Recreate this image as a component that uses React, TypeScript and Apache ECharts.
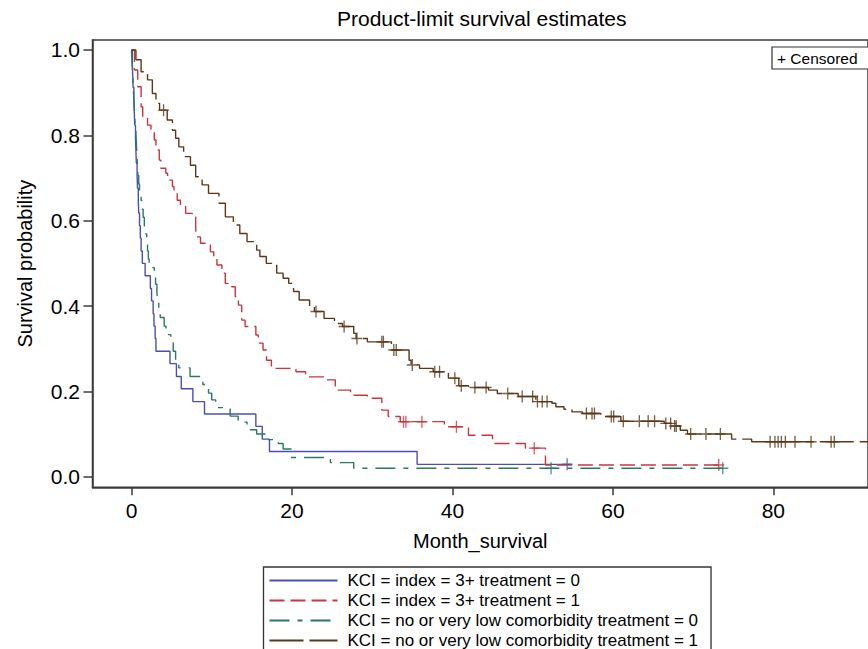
import React, { useEffect, useRef } from 'react';
import * as echarts from 'echarts';

const FONT = '"Liberation Sans", Arial, Helvetica, sans-serif';

const seriesNames = [
  'KCI = index = 3+ treatment = 0',
  'KCI = index = 3+ treatment = 1',
  'KCI = no or very low comorbidity treatment = 0',
  'KCI = no or very low comorbidity treatment = 1',
];

const xTicks = [0, 20, 40, 60, 80];
const yTicks = [0, 0.2, 0.4, 0.6, 0.8, 1.0];

// Group 1: index 3+, treatment 0 (blue, solid)
const blueTimes = [0, 0.1, 0.15, 0.2, 0.3, 0.35, 0.4, 0.5, 0.55, 0.6, 0.7, 0.75, 0.85, 0.9, 1.0, 1.1, 1.2, 1.35, 1.7, 2.35, 2.5, 2.7, 2.8, 2.95, 3.05, 4.8, 5.6, 6.2, 7.65, 9.1, 15.5, 16.3, 17.2, 35.6, 54.8];
const blueSurv = [1, 0.971, 0.941, 0.912, 0.882, 0.853, 0.824, 0.794, 0.765, 0.735, 0.706, 0.676, 0.647, 0.618, 0.588, 0.559, 0.529, 0.5, 0.471, 0.441, 0.412, 0.382, 0.353, 0.324, 0.294, 0.265, 0.235, 0.206, 0.176, 0.147, 0.118, 0.088, 0.059, 0.029, 0.029];
const blueCensor = [54.3];

// Group 2: index 3+, treatment 1 (red, dashed)
const redTimes = [0, 0.37, 0.78, 1.2, 1.4, 2.0, 2.43, 2.84, 3.05, 3.46, 3.66, 4.28, 4.5, 5.1, 5.3, 5.7, 6.1, 6.75, 7.57, 8.0, 8.05, 8.6, 9.84, 10.25, 10.65, 11.27, 11.69, 12.5, 12.93, 13.33, 13.74, 14.16, 15.5, 15.8, 16.4, 16.83, 17.44, 20.5, 21.7, 24.0, 25.4, 27.3, 29.4, 31.2, 32.0, 33.5, 39.0, 42.0, 45.0, 49.1, 51.6, 73.4];
const redSurv = [1, 0.953, 0.914, 0.867, 0.844, 0.824, 0.812, 0.789, 0.766, 0.742, 0.723, 0.711, 0.695, 0.68, 0.664, 0.648, 0.633, 0.617, 0.609, 0.586, 0.562, 0.547, 0.527, 0.512, 0.496, 0.477, 0.453, 0.445, 0.422, 0.402, 0.367, 0.352, 0.332, 0.313, 0.297, 0.273, 0.254, 0.246, 0.234, 0.227, 0.203, 0.191, 0.184, 0.156, 0.141, 0.129, 0.117, 0.097, 0.078, 0.067, 0.0275, 0.0275];
const redCensor = [33.9, 34.2, 36.2, 40.5, 50.2, 73.2];

// Group 3: no / very low comorbidity, treatment 0 (green, dash-dot)
const greenTimes = [0, 0.05, 0.1, 0.15, 0.2, 0.25, 0.3, 0.35, 0.4, 0.45, 0.55, 0.6, 0.65, 0.7, 0.75, 0.8, 0.9, 1.0, 1.2, 1.3, 1.45, 1.6, 1.75, 1.9, 2.0, 2.1, 2.2, 2.84, 3.0, 3.17, 3.25, 3.4, 3.58, 4.07, 4.3, 4.9, 5.2, 5.5, 5.9, 7.3, 8.9, 9.6, 10.0, 10.5, 12.3, 13.3, 14.4, 15.6, 16.8, 18.3, 18.9, 19.9, 24.8, 27.7, 73.8];
const greenSurv = [1, 0.98, 0.961, 0.941, 0.922, 0.902, 0.882, 0.863, 0.843, 0.824, 0.804, 0.784, 0.765, 0.745, 0.725, 0.706, 0.686, 0.667, 0.647, 0.627, 0.608, 0.588, 0.569, 0.549, 0.529, 0.51, 0.49, 0.471, 0.451, 0.431, 0.412, 0.392, 0.373, 0.353, 0.333, 0.314, 0.294, 0.275, 0.255, 0.235, 0.216, 0.196, 0.18, 0.162, 0.142, 0.128, 0.11, 0.1, 0.087, 0.078, 0.065, 0.045, 0.033, 0.02, 0.02];
const greenCensor = [52.3, 73.7];

// Group 4: no / very low comorbidity, treatment 1 (brown, long dash)
const brownTimes = [0, 0.55, 1.2, 2.0, 2.6, 3.05, 3.5, 4.45, 5.1, 5.5, 5.9, 6.5, 7.35, 8.0, 8.8, 9.6, 10.9, 11.7, 12.7, 13.5, 14.4, 15.6, 16.0, 16.8, 18.1, 18.9, 19.6, 20.2, 20.9, 22.2, 22.8, 24.0, 25.3, 26.3, 27.7, 28.0, 29.4, 32.4, 34.6, 34.85, 35.9, 37.6, 39.5, 40.8, 42.0, 44.5, 45.6, 48.2, 50.4, 52.4, 52.9, 53.9, 54.9, 56.2, 58.5, 61.0, 66.4, 67.5, 68.4, 69.3, 74.8, 77.3, 91.8];
const brownSurv = [1, 0.977, 0.949, 0.93, 0.898, 0.875, 0.859, 0.836, 0.812, 0.793, 0.773, 0.75, 0.73, 0.703, 0.684, 0.664, 0.641, 0.609, 0.59, 0.57, 0.551, 0.531, 0.516, 0.5, 0.477, 0.465, 0.453, 0.434, 0.414, 0.398, 0.387, 0.371, 0.359, 0.352, 0.336, 0.324, 0.316, 0.297, 0.273, 0.262, 0.254, 0.246, 0.231, 0.213, 0.209, 0.203, 0.195, 0.188, 0.176, 0.172, 0.164, 0.158, 0.152, 0.148, 0.141, 0.13, 0.125, 0.119, 0.109, 0.1, 0.088, 0.082, 0.082];
const brownCensor = [4.0, 23.0, 26.5, 28.1, 31.2, 31.4, 32.7, 33.0, 35.0, 37.8, 38.4, 40.3, 41.1, 42.8, 44.2, 46.9, 48.7, 50.0, 50.6, 51.2, 51.8, 56.7, 57.4, 57.7, 59.8, 60.1, 61.3, 63.3, 64.4, 65.2, 66.6, 67.2, 67.7, 67.9, 69.7, 71.6, 73.4, 79.6, 80.2, 80.6, 81.0, 81.5, 82.7, 84.7, 87.2, 87.6];

const PLUS = 'path://M4.4,0H5.6V10H4.4Z M0,4.4H10V5.6H0Z';

function pairs(times: number[], surv: number[]) {
  return times.map((t, i) => [t, surv[i]]);
}

function survAt(times: number[], surv: number[], t: number) {
  let v = surv[0];
  for (let i = 0; i < times.length; i++) {
    if (times[i] <= t) v = surv[i];
  }
  return v;
}

export default function App() {
  const ref = useRef<HTMLDivElement>(null);

  useEffect(() => {
    if (!ref.current) return;
    const chart = echarts.init(ref.current, null, { renderer: 'svg' });

    const groups = [
      { name: seriesNames[0], times: blueTimes, surv: blueSurv, censor: blueCensor, color: '#4b4fb3', dash: 'solid' as any },
      { name: seriesNames[1], times: redTimes, surv: redSurv, censor: redCensor, color: '#c9363f', dash: [15, 6] },
      { name: seriesNames[2], times: greenTimes, surv: greenSurv, censor: greenCensor, color: '#2a7868', dash: [20, 8, 5, 8] },
      { name: seriesNames[3], times: brownTimes, surv: brownSurv, censor: brownCensor, color: '#5a3818', dash: [34, 6] },
    ];

    const series: any[] = [];
    groups.forEach((g, gi) => {
      series.push({
        type: 'line',
        name: g.name,
        data: pairs(g.times, g.surv),
        step: 'end',
        symbol: 'none',
        showSymbol: false,
        lineStyle: { color: g.color, width: 1.4, type: g.dash },
        itemStyle: { color: g.color },
        z: 2 + gi,
        silent: true,
      });
      series.push({
        type: 'scatter',
        name: 'censored-' + gi,
        data: g.censor.map((c) => [c, survAt(g.times, g.surv, c)]),
        symbol: PLUS,
        symbolSize: [11, 12],
        itemStyle: { color: g.color },
        z: 6,
        silent: true,
      });
    });

    const axisColor = '#3a3a3a';

    chart.setOption({
      animation: false,
      backgroundColor: '#ffffff',
      title: {
        text: 'Product-limit survival estimates',
        left: 337,
        top: 8,
        padding: 0,
        textStyle: { fontFamily: FONT, fontSize: 21, fontWeight: 'normal', color: '#000' },
      },
      grid: {
        left: 92.5,
        top: 40,
        width: 785.5,
        height: 447.3,
        show: true,
        borderColor: axisColor,
        borderWidth: 1.5,
        backgroundColor: 'transparent',
      },
      xAxis: {
        type: 'value',
        min: -4.86,
        max: 91.8,
        name: 'Month_survival',
        nameLocation: 'middle',
        nameGap: 44,
        nameTextStyle: { fontFamily: FONT, fontSize: 20, color: '#000' },
        axisLine: { show: true, onZero: false, lineStyle: { color: axisColor, width: 1.5 } },
        axisTick: { show: true, customValues: xTicks, length: 8, inside: false, lineStyle: { color: axisColor, width: 1.5 } },
        axisLabel: { customValues: xTicks, margin: 13, fontSize: 21, color: '#000', fontFamily: FONT },
        splitLine: { show: false },
      },
      yAxis: {
        type: 'value',
        min: -0.0248,
        max: 1.0234,
        name: 'Survival probability',
        nameLocation: 'middle',
        nameGap: 58,
        nameTextStyle: { fontFamily: FONT, fontSize: 20, color: '#000' },
        axisLine: { show: true, onZero: false, lineStyle: { color: axisColor, width: 1.5 } },
        axisTick: { show: true, customValues: yTicks, length: 9, inside: false, lineStyle: { color: axisColor, width: 1.5 } },
        axisLabel: {
          customValues: yTicks,
          margin: 12.5,
          fontSize: 21,
          color: '#000',
          fontFamily: FONT,
          formatter: (v: number) => v.toFixed(1),
        },
        splitLine: { show: false },
      },
      legend: {
        orient: 'vertical',
        left: 263.5,
        top: 567,
        height: 200,
        data: seriesNames,
        selectedMode: false,
        itemWidth: 68,
        itemHeight: 14,
        itemGap: 3,
        padding: [5, 13, 5, 5],
        borderColor: '#333',
        borderWidth: 1.3,
        backgroundColor: '#fff',
        itemStyle: { opacity: 0, borderWidth: 0 },
        textStyle: { fontFamily: FONT, fontSize: 17, color: '#000', padding: [0, 0, 0, 5] },
      },
      graphic: [
        {
          type: 'rect',
          x: 772,
          y: 47,
          shape: { width: 120, height: 22 },
          style: { fill: '#fff', stroke: '#333', lineWidth: 1.2 },
          z: 10,
        },
        {
          type: 'text',
          x: 777,
          y: 58,
          style: { text: '+ Censored', fontFamily: FONT, fontSize: 15.5, fill: '#000', verticalAlign: 'middle' },
          z: 11,
        },
      ],
      series,
    });

    return () => {
      chart.dispose();
    };
  }, []);

  return (
    <div
      ref={ref}
      style={{ position: 'fixed', left: 0, top: 0, width: 868, height: 649, background: '#fff' }}
    />
  );
}
